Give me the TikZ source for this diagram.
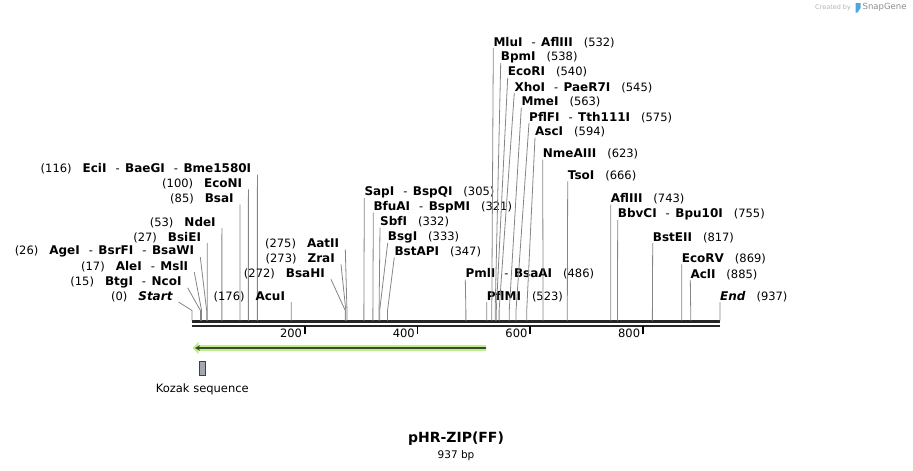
\documentclass[tikz,border=0pt]{standalone}
\usepackage{fontspec}
\setmainfont{DejaVu Sans}
\usetikzlibrary{arrows.meta}
\usetikzlibrary{positioning}
\definecolor{cutgray}{HTML}{858585}
\definecolor{seqdark}{HTML}{262626}
\definecolor{featglow}{HTML}{BDF08C}
\definecolor{featdark}{HTML}{3E4A2C}
\definecolor{kozakfill}{HTML}{A3A7B0}
\definecolor{snapblue}{HTML}{4AA8E0}
\newcommand{\enz}[1]{{\fontsize{12}{13}\selectfont\bfseries #1}}
\newcommand{\orr}{\hspace{9pt}-\hspace{5.5pt}}
\newcommand{\gp}{\hspace{11pt}}
\tikzset{
  lab/.style={inner sep=0pt, font=\fontsize{11.5}{13}\selectfont},
  cut/.style={draw=cutgray, line width=0.8pt},
  seqline/.style={draw=seqdark},
  ticktop/.style={line width=1.6pt, draw=black}
}

\begin{document}
\begin{tikzpicture}[x=1pt,y=-1pt]
\useasboundingbox (0,0) rectangle (913,471);

\coordinate (sstart) at (192,321.7);
\coordinate (send) at (720,321.7);
\draw[seqline, line width=2.6pt] (sstart) -- (send);
\draw[seqline, line width=2pt] ([yshift=-3.9pt]sstart) -- ([yshift=-3.9pt]send);
\foreach \t in {200,400,600,800}{
  \draw[ticktop] ({192+0.5635*\t},325.5) -- ++(0,8.5) coordinate (t\t);
  \node[lab, anchor=base east] (tl\t) at ([shift={(-2.5,3)}]t\t) {\t};
}

% sites labelled on the right
\foreach \b/\lx/\ly/\txt in {
  305/364.3/192.3/{\enz{SapI}\orr\enz{BspQI}\gp(305)},
  321/373.3/206.7/{\enz{BfuAI}\orr\enz{BspMI}\gp(321)},
  332/380/222/{\enz{SbfI}\gp(332)},
  333/387.7/237/{\enz{BsgI}\gp(333)},
  347/394.3/252/{\enz{BstAPI}\gp(347)},
  486/465.3/274/{\enz{PmlI}\orr\enz{BsaAI}\gp(486)},
  523/486.7/296.7/{\enz{PflMI}\gp(523)},
  532/493.3/42.3/{\enz{MluI}\orr\enz{AflIII}\gp(532)},
  538/500.7/57.3/{\enz{BpmI}\gp(538)},
  540/507.7/72.3/{\enz{EcoRI}\gp(540)},
  545/514.3/87.3/{\enz{XhoI}\orr\enz{PaeR7I}\gp(545)},
  563/521.3/102.3/{\enz{MmeI}\gp(563)},
  575/529/117.3/{\enz{PflFI}\orr\enz{Tth111I}\gp(575)},
  594/535/132.3/{\enz{AscI}\gp(594)},
  623/542.7/154.3/{\enz{NmeAIII}\gp(623)},
  666/567.7/176/{\enz{TsoI}\gp(666)},
  743/610.7/199/{\enz{AflIII}\gp(743)},
  755/617.7/214/{\enz{BbvCI}\orr\enz{Bpu10I}\gp(755)},
  817/652.7/237.7/{\enz{BstEII}\gp(817)},
  869/681.7/259/{\enz{EcoRV}\gp(869)},
  885/690.3/274.3/{\enz{AclI}\gp(885)},
  937/720/296.7/{\enz{\itshape End}\gp(937)}}{
  \coordinate (c\b) at ({192+0.5635*\b},320.5);
  \node[lab, anchor=west] (l\b) at (\lx,\ly) {\txt};
  \draw[cut] (c\b) -- ++(0,-10) -- (l\b.south west);
}

% sites labelled on the left
\foreach \b/\lx/\ly/\txt in {
  0/172.7/296.7/{(0)\gp\enz{\itshape Start}},
  15/181.7/282/{(15)\gp\enz{BtgI}\orr\enz{NcoI}},
  17/188.3/266.7/{(17)\gp\enz{AleI}\orr\enz{MslI}},
  26/194.3/251.3/{(26)\gp\enz{AgeI}\orr\enz{BsrFI}\orr\enz{BsaWI}},
  27/201.2/237.3/{(27)\gp\enz{BsiEI}},
  53/215.9/222.3/{(53)\gp\enz{NdeI}},
  85/233.9/199.3/{(85)\gp\enz{BsaI}},
  100/242.4/184/{(100)\gp\enz{EcoNI}},
  116/251.4/169/{(116)\gp\enz{EciI}\orr\enz{BaeGI}\orr\enz{Bme1580I}},
  176/285.2/296.7/{(176)\gp\enz{AcuI}},
  272/325/274/{(272)\gp\enz{BsaHI}},
  273/335/259/{(273)\gp\enz{ZraI}},
  275/339.3/244/{(275)\gp\enz{AatII}}}{
  \coordinate (c\b) at ({192+0.5635*\b},320.5);
  \node[lab, anchor=east] (l\b) at (\lx,\ly) {\txt};
  \draw[cut] (c\b) -- ++(0,-10) -- ([xshift=6pt]l\b.south east);
}

\coordinate (fend) at (486,348);
\coordinate (fstart) at (192.5,348);
\draw[featglow, line width=6pt, -{Triangle[length=6pt,width=12pt]}] (fend) -- (fstart);
\draw[featdark, line width=1.7pt, -{Stealth[length=5pt,width=5.5pt]}] (fend) -- ([xshift=2.5pt]fstart);

\node[draw=black!75, fill=kozakfill, line width=0.8pt, inner sep=0pt,
  minimum width=5.5pt, minimum height=14.5pt] (kozak) at (202.3,368.5) {};
\node[lab, below=7pt of kozak] (kozaklab) {Kozak sequence};

\node[inner sep=0pt, font=\bfseries\fontsize{14}{16}\selectfont] (title) at (456,439) {pHR-ZIP(FF)};
\node[lab, font=\fontsize{10.5}{12}\selectfont, below=4.5pt of title] (bplen) {937 bp};

\node[inner sep=0pt, anchor=west, text=black!30, font=\fontsize{6.5}{8}\selectfont] (made) at (815,7.5) {Created by};
\fill[snapblue] (855.5,3) -- (860.5,3) -- (860.5,8) -- (857.5,12.5) -- (855.5,12.5) -- cycle;
\node[inner sep=0pt, anchor=west, text=black!45, font=\fontsize{8.5}{10}\selectfont] (snap) at (862.5,7.5) {SnapGene};
\end{tikzpicture}
\end{document}
